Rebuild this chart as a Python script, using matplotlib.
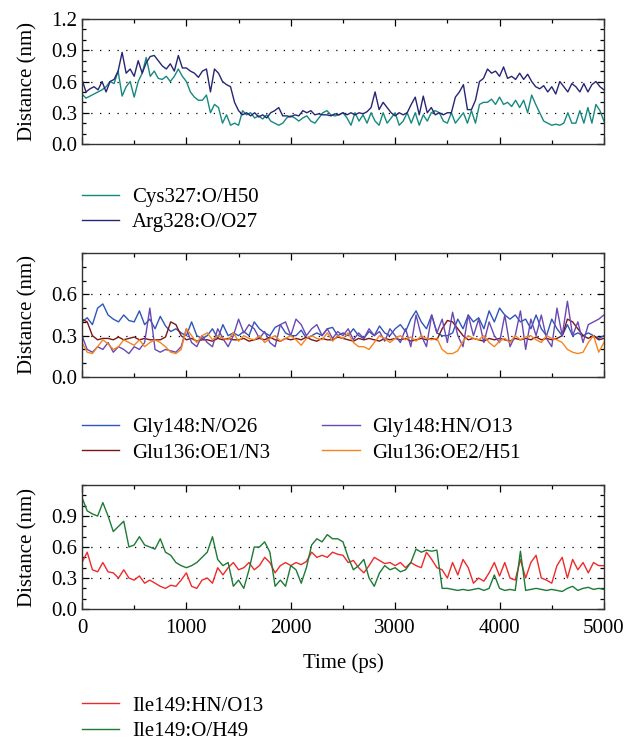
import numpy as np
import matplotlib
matplotlib.use("Agg")
import matplotlib.pyplot as plt
from matplotlib.ticker import MultipleLocator

plt.rcParams["font.family"] = ["Liberation Serif", "DejaVu Serif"]
plt.rcParams["font.size"] = 15

# ---- panel 1 (Distance, nm) ----
cys327_o_h50 = [
    0.48, 0.44, 0.46, 0.48, 0.50, 0.52, 0.55, 0.60, 0.58, 0.70, 0.46, 0.55, 0.60, 0.45, 0.60,
    0.68, 0.83, 0.65, 0.70, 0.63, 0.62, 0.65, 0.60, 0.65, 0.72, 0.65, 0.60, 0.50, 0.45, 0.42,
    0.42, 0.47, 0.30, 0.38, 0.35, 0.20, 0.28, 0.18, 0.20, 0.18, 0.32, 0.28, 0.30, 0.25, 0.27,
    0.24, 0.28, 0.22, 0.20, 0.18, 0.20, 0.25, 0.27, 0.25, 0.22, 0.25, 0.27, 0.22, 0.20, 0.25,
    0.30, 0.32, 0.28, 0.27, 0.28, 0.30, 0.25, 0.18, 0.30, 0.22, 0.28, 0.20, 0.30, 0.22, 0.18,
    0.30, 0.20, 0.25, 0.30, 0.18, 0.22, 0.30, 0.20, 0.30, 0.18, 0.28, 0.22, 0.30, 0.32, 0.30,
    0.22, 0.20, 0.30, 0.20, 0.25, 0.30, 0.20, 0.32, 0.20, 0.38, 0.40, 0.40, 0.43, 0.38, 0.45,
    0.38, 0.40, 0.36, 0.42, 0.35, 0.42, 0.30, 0.47, 0.38, 0.30, 0.22, 0.20, 0.18, 0.19, 0.18,
    0.20, 0.30, 0.20, 0.20, 0.32, 0.20, 0.35, 0.20, 0.38, 0.32, 0.22,
]
arg328_o_o27 = [
    0.62, 0.50, 0.53, 0.55, 0.52, 0.60, 0.50, 0.60, 0.62, 0.70, 0.88, 0.68, 0.72, 0.65, 0.80,
    0.68, 0.78, 0.84, 0.85, 0.80, 0.75, 0.72, 0.77, 0.70, 0.85, 0.73, 0.73, 0.70, 0.68, 0.64,
    0.70, 0.72, 0.50, 0.72, 0.68, 0.60, 0.57, 0.55, 0.40, 0.32, 0.28, 0.30, 0.27, 0.30, 0.26,
    0.28, 0.25, 0.30, 0.32, 0.35, 0.27, 0.27, 0.26, 0.28, 0.27, 0.32, 0.30, 0.32, 0.28, 0.29,
    0.28, 0.28, 0.27, 0.29, 0.28, 0.30, 0.28, 0.30, 0.28, 0.30, 0.29, 0.31, 0.35, 0.50, 0.33,
    0.40, 0.35, 0.30, 0.27, 0.30, 0.28, 0.30, 0.38, 0.45, 0.28, 0.46, 0.30, 0.35, 0.28, 0.30,
    0.28, 0.30, 0.30, 0.45, 0.50, 0.57, 0.33, 0.33, 0.42, 0.60, 0.63, 0.72, 0.68, 0.70, 0.65,
    0.74, 0.63, 0.65, 0.62, 0.68, 0.62, 0.67, 0.60, 0.55, 0.53, 0.56, 0.50, 0.55, 0.48, 0.60,
    0.55, 0.50, 0.58, 0.55, 0.50, 0.58, 0.50, 0.57, 0.60, 0.55, 0.52,
]

# ---- panel 2 ----
gly148_n_o26 = [
    0.40, 0.43, 0.38, 0.50, 0.53, 0.45, 0.42, 0.40, 0.45, 0.41, 0.40, 0.48, 0.38, 0.42, 0.35,
    0.44, 0.37, 0.33, 0.35, 0.32, 0.30, 0.40, 0.30, 0.28, 0.30, 0.35, 0.28, 0.38, 0.30, 0.32,
    0.30, 0.33, 0.30, 0.40, 0.35, 0.32, 0.30, 0.36, 0.38, 0.32, 0.30, 0.30, 0.34, 0.28, 0.30,
    0.32, 0.30, 0.35, 0.36, 0.30, 0.32, 0.30, 0.35, 0.30, 0.28, 0.33, 0.30, 0.37, 0.32, 0.30,
    0.35, 0.38, 0.33, 0.42, 0.48, 0.40, 0.35, 0.45, 0.32, 0.30, 0.30, 0.32, 0.42, 0.35, 0.45,
    0.40, 0.43, 0.35, 0.48, 0.40, 0.50, 0.45, 0.42, 0.45, 0.40, 0.42, 0.35, 0.45, 0.35, 0.30,
    0.42, 0.35, 0.30, 0.38, 0.30, 0.32, 0.30, 0.32, 0.30, 0.28, 0.30,
]
gly148_hn_o13 = [
    0.30, 0.20, 0.18, 0.22, 0.20, 0.25, 0.18, 0.22, 0.20, 0.17, 0.22, 0.20, 0.25, 0.50, 0.20,
    0.18, 0.20, 0.19, 0.18, 0.22, 0.35, 0.25, 0.22, 0.30, 0.25, 0.22, 0.35, 0.28, 0.22, 0.30,
    0.42, 0.32, 0.38, 0.35, 0.28, 0.33, 0.25, 0.22, 0.38, 0.40, 0.30, 0.42, 0.38, 0.30, 0.35,
    0.38, 0.30, 0.35, 0.28, 0.33, 0.30, 0.35, 0.27, 0.32, 0.28, 0.35, 0.30, 0.33, 0.26, 0.35,
    0.30, 0.25, 0.35, 0.22, 0.45, 0.30, 0.22, 0.45, 0.32, 0.42, 0.25, 0.47, 0.30, 0.22, 0.45,
    0.30, 0.42, 0.25, 0.40, 0.30, 0.25, 0.45, 0.22, 0.30, 0.48, 0.20, 0.42, 0.30, 0.45, 0.28,
    0.22, 0.50, 0.30, 0.55, 0.30, 0.40, 0.25, 0.38, 0.40, 0.42, 0.45,
]
glu136_oe1_n3 = [
    0.42, 0.40, 0.30, 0.27, 0.28, 0.28, 0.27, 0.29, 0.27, 0.28, 0.29, 0.27, 0.28, 0.27, 0.27,
    0.27, 0.29, 0.40, 0.38, 0.30, 0.27, 0.28, 0.26, 0.27, 0.27, 0.26, 0.28, 0.27, 0.28, 0.27,
    0.27, 0.28, 0.26, 0.27, 0.28, 0.27, 0.29, 0.27, 0.26, 0.28, 0.27, 0.28, 0.27, 0.29, 0.27,
    0.26, 0.28, 0.27, 0.27, 0.29, 0.28, 0.27, 0.26, 0.28, 0.27, 0.28, 0.27, 0.26, 0.28, 0.27,
    0.28, 0.27, 0.28, 0.26, 0.27, 0.28, 0.27, 0.28, 0.27, 0.35, 0.41, 0.40, 0.35, 0.30, 0.27,
    0.28, 0.27, 0.26, 0.28, 0.27, 0.28, 0.27, 0.26, 0.28, 0.27, 0.28, 0.27, 0.29, 0.27, 0.28,
    0.27, 0.28, 0.30, 0.42, 0.40, 0.35, 0.30, 0.28, 0.30, 0.27, 0.28,
]
glu136_oe2_h51 = [
    0.25, 0.18, 0.17, 0.22, 0.27, 0.24, 0.20, 0.22, 0.27, 0.25, 0.23, 0.27, 0.22, 0.25, 0.27,
    0.25, 0.22, 0.18, 0.17, 0.20, 0.35, 0.30, 0.25, 0.30, 0.32, 0.27, 0.30, 0.28, 0.27, 0.32,
    0.26, 0.30, 0.28, 0.27, 0.30, 0.25, 0.28, 0.30, 0.26, 0.28, 0.30, 0.27, 0.23, 0.28, 0.30,
    0.28, 0.27, 0.32, 0.26, 0.30, 0.28, 0.32, 0.25, 0.22, 0.22, 0.20, 0.25, 0.30, 0.28, 0.25,
    0.28, 0.30, 0.27, 0.29, 0.26, 0.30, 0.28, 0.27, 0.28, 0.20, 0.17, 0.17, 0.19, 0.26, 0.30,
    0.28, 0.27, 0.30, 0.25, 0.22, 0.26, 0.28, 0.25, 0.30, 0.27, 0.29, 0.30, 0.27, 0.25, 0.30,
    0.28, 0.27, 0.25, 0.20, 0.18, 0.17, 0.18, 0.25, 0.30, 0.18, 0.25,
]

# ---- panel 3 ----
ile149_hn_o13 = [
    0.45, 0.55, 0.38, 0.36, 0.45, 0.36, 0.35, 0.30, 0.38, 0.30, 0.28, 0.32, 0.25, 0.28, 0.25,
    0.22, 0.20, 0.23, 0.22, 0.28, 0.35, 0.22, 0.20, 0.28, 0.30, 0.25, 0.40, 0.33, 0.40, 0.45,
    0.38, 0.40, 0.45, 0.38, 0.42, 0.50, 0.45, 0.35, 0.42, 0.45, 0.42, 0.45, 0.43, 0.46, 0.55,
    0.50, 0.52, 0.50, 0.55, 0.53, 0.52, 0.45, 0.47, 0.40, 0.35, 0.42, 0.50, 0.47, 0.44, 0.45,
    0.42, 0.45, 0.40, 0.45, 0.42, 0.40, 0.55, 0.48, 0.40, 0.38, 0.30, 0.45, 0.33, 0.48, 0.40,
    0.25, 0.30, 0.27, 0.35, 0.45, 0.32, 0.45, 0.30, 0.28, 0.48, 0.30, 0.45, 0.52, 0.30, 0.28,
    0.25, 0.42, 0.50, 0.30, 0.48, 0.38, 0.45, 0.35, 0.45, 0.42, 0.42,
]
ile149_o_h49 = [
    1.08, 0.95, 0.92, 0.90, 1.03, 0.90, 0.75, 0.80, 0.85, 0.60, 0.62, 0.70, 0.62, 0.60, 0.58,
    0.68, 0.55, 0.52, 0.45, 0.42, 0.40, 0.42, 0.45, 0.50, 0.55, 0.70, 0.48, 0.42, 0.45, 0.22,
    0.28, 0.20, 0.38, 0.60, 0.60, 0.65, 0.55, 0.22, 0.28, 0.22, 0.42, 0.38, 0.25, 0.40, 0.62,
    0.68, 0.65, 0.72, 0.68, 0.68, 0.65, 0.50, 0.38, 0.42, 0.48, 0.30, 0.22, 0.35, 0.42, 0.38,
    0.40, 0.36, 0.38, 0.45, 0.58, 0.55, 0.57, 0.56, 0.57, 0.20, 0.20, 0.19, 0.18, 0.19, 0.18,
    0.19, 0.20, 0.18, 0.20, 0.33, 0.20, 0.18, 0.19, 0.18, 0.56, 0.18, 0.19, 0.20, 0.19, 0.18,
    0.19, 0.18, 0.17, 0.20, 0.22, 0.18, 0.20, 0.21, 0.19, 0.20, 0.19,
]

T_END = 5000

PANELS = [
    dict(rect=[0.1293, 0.8062, 0.8233, 0.1682], ylim=1.2, yticks=[0, 0.3, 0.6, 0.9, 1.2],
         series=[(cys327_o_h50, "#16897e", "Cys327:O/H50"),
                 (arg328_o_o27, "#262674", "Arg328:O/O27")],
         leg_top=0.748, ncol=1),
    dict(rect=[0.1293, 0.4926, 0.8233, 0.1669], ylim=0.9, yticks=[0, 0.3, 0.6],
         series=[(gly148_n_o26, "#2e56b8", "Gly148:N/O26"),
                 (glu136_oe1_n3, "#7a1518", "Glu136:OE1/N3"),
                 (gly148_hn_o13, "#6a48b4", "Gly148:HN/O13"),
                 (glu136_oe2_h51, "#f5861f", "Glu136:OE2/H51")],
         leg_top=0.438, ncol=2),
    dict(rect=[0.1293, 0.1803, 0.8233, 0.1669], ylim=1.2, yticks=[0, 0.3, 0.6, 0.9],
         series=[(ile149_hn_o13, "#ee2a2a", "Ile149:HN/O13"),
                 (ile149_o_h49, "#1c7a35", "Ile149:O/H49")],
         leg_top=0.063, ncol=1),
]


def main():
    fig = plt.figure(figsize=(6.34, 7.43), dpi=100)
    for i, p in enumerate(PANELS):
        ax = fig.add_axes(p["rect"])
        lines = []
        for vals, color, label in p["series"]:
            t = np.linspace(0, T_END, len(vals))
            ln, = ax.plot(t, vals, color=color, lw=1.0, label=label)
            lines.append(ln)
        ax.set_xlim(0, T_END)
        ax.set_ylim(0, p["ylim"])
        ax.set_yticks(p["yticks"])
        ax.set_yticklabels([f"{v:.1f}" for v in p["yticks"]])
        ax.yaxis.set_minor_locator(MultipleLocator(0.1))
        ax.xaxis.set_major_locator(MultipleLocator(1000))
        ax.xaxis.set_minor_locator(MultipleLocator(500))
        ax.tick_params(which="both", direction="in", top=True, right=True, width=0.9)
        ax.tick_params(which="major", length=5, labelsize=15)
        ax.tick_params(axis="x", which="major", pad=7)
        ax.tick_params(which="minor", length=3)
        for s in ax.spines.values():
            s.set_linewidth(1.0)
            s.set_color("#333333")
        for lvl in (0.3, 0.6, 0.9):
            if lvl < p["ylim"] - 1e-6 and lvl <= max(p["yticks"]):
                ax.axhline(lvl, color="k", lw=0.9, ls=(0, (1, 6)), zorder=0)
        ax.set_ylabel("Distance (nm)", fontsize=15, labelpad=10)
        if i < 2:
            ax.set_xticklabels([])
        else:
            ax.set_xlabel("Time (ps)", fontsize=15, labelpad=11)

        fig.legend(handles=lines, loc="upper left", bbox_to_anchor=(0.1293, p["leg_top"]),
                   ncol=p["ncol"], frameon=False, fontsize=15, handlelength=1.8,
                   handletextpad=0.6, labelspacing=0.28, columnspacing=2.5,
                   borderpad=0, borderaxespad=0)

    fig.savefig("out.png", dpi=100)
    plt.close(fig)


if __name__ == "__main__":
    main()
